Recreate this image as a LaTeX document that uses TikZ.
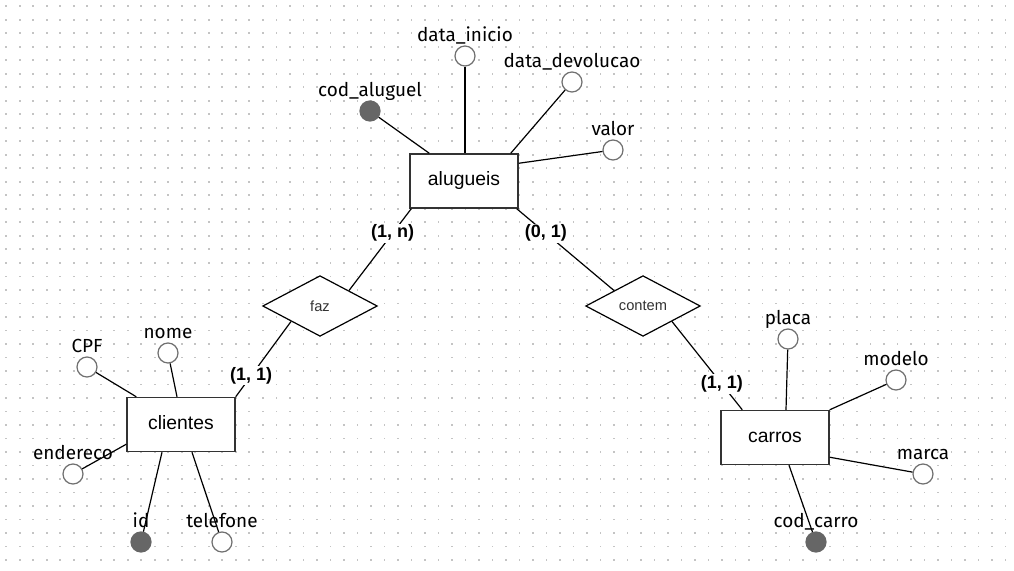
\documentclass[tikz,border=0pt]{standalone}
\usepackage{fontspec}
\setmainfont{Liberation Sans}
\newfontfamily\attrfont{Fira Sans}
\usetikzlibrary{shapes.geometric,calc}
\definecolor{boxline}{HTML}{333333}
\definecolor{circline}{HTML}{707070}
\definecolor{keyfill}{HTML}{666666}
\definecolor{dotc}{HTML}{C4C4C4}
\begin{document}
\begin{tikzpicture}[x=0.75pt,y=-0.75pt,
 entity/.style={draw=boxline, line width=1.1pt, fill=white, minimum width=81pt, minimum height=40.5pt, inner sep=0pt, font=\fontsize{14.5}{17}\selectfont, text height=0.72em, text depth=0pt},
 rel/.style={diamond, draw=black, line width=0.9pt, fill=white, aspect=1, inner sep=0pt, minimum width=86pt, minimum height=45.5pt, font=\fontsize{11}{13}\selectfont, text=black!80},
 attr/.style={circle, draw=circline, line width=0.9pt, fill=white, minimum size=15pt, inner sep=0pt},
 keyattr/.style={attr, fill=keyfill, draw=keyfill},
 alabel/.style={font=\attrfont\fontsize{14.2}{16}\selectfont, anchor=base, inner sep=0pt},
 card/.style={font=\bfseries\fontsize{13.5}{16}\selectfont, fill=white, inner sep=1pt},
 link/.style={draw=black, line width=0.9pt}]
\useasboundingbox[fill=white] (0,0) rectangle (1014,571);
\foreach \i in {0,...,74}{\foreach \j in {0,...,41}{\fill[dotc] (5.4+13.505*\i,5.4+13.505*\j) rectangle ++(1.6,1.6);}}
% entities
\node[entity] (alugueis) at (464,181) {alugueis};
\node[entity] (clientes) at (181,424.5) {clientes};
\node[entity] (carros) at (775,437.5) {carros};
% relationships
\node[rel] (faz) at (320,306) {faz};
\node[rel] (contem) at (643,306) {contem};
% attributes of alugueis
\node[keyattr] (codal) at (370,111) {};
\node[alabel] (codal-l) at (370,96) {cod\_aluguel};
\node[attr] (dtini) at (465,56) {};
\node[alabel] (dtini-l) at (465,41) {data\_inicio};
\node[attr] (dtdev) at (572,82) {};
\node[alabel] (dtdev-l) at (572,67) {data\_devolucao};
\node[attr] (valor) at (613,150) {};
\node[alabel] (valor-l) at (613,135) {valor};
% attributes of clientes
\node[attr] (cpf) at (87,367) {};
\node[alabel] (cpf-l) at (87,352) {CPF};
\node[attr] (nome) at (168,353) {};
\node[alabel] (nome-l) at (168,338) {nome};
\node[attr] (end) at (73,474) {};
\node[alabel] (end-l) at (73,459) {endereco};
\node[keyattr] (id) at (141,542) {};
\node[alabel] (id-l) at (141,527) {id};
\node[attr] (tel) at (222,542) {};
\node[alabel] (tel-l) at (222,527) {telefone};
% attributes of carros
\node[attr] (placa) at (788,339) {};
\node[alabel] (placa-l) at (788,324) {placa};
\node[attr] (modelo) at (896,380) {};
\node[alabel] (modelo-l) at (896,365) {modelo};
\node[attr] (marca) at (923,474) {};
\node[alabel] (marca-l) at (923,459) {marca};
\node[keyattr] (codcar) at (816,542) {};
\node[alabel] (codcar-l) at (816,527) {cod\_carro};
% attribute links
\draw[link] (codal) -- ([xshift=15pt]alugueis.north west);
\draw[link] (dtini) -- ([xshift=0.75pt]alugueis.north);
\draw[link] (dtdev) -- ([xshift=-6pt]alugueis.north east);
\draw[link] (valor) -- ([yshift=-7.5pt]alugueis.north east);
\draw[link] (cpf) -- ([xshift=7.5pt]clientes.north west);
\draw[link] (nome) -- ([xshift=-3pt]clientes.north);
\draw[link] (end) -- ([yshift=6pt]clientes.south west);
\draw[link] (id) -- ([xshift=-14.25pt]clientes.south);
\draw[link] (tel) -- ([xshift=8.25pt]clientes.south);
\draw[link] (placa) -- ([xshift=8.25pt]carros.north);
\draw[link] (modelo) -- (carros.north east);
\draw[link] (marca) -- ([yshift=6pt]carros.south east);
\draw[link] (codcar) -- ([xshift=10.5pt]carros.south);
% relationship links
\draw[link] ([xshift=1.5pt]alugueis.south west) -- node[card,pos=0.30]{(1, n)} ($(faz.north)!0.5!(faz.east)$);
\draw[link] ($(faz.south)!0.5!(faz.west)$) -- node[card,pos=0.72]{(1, 1)} (clientes.north east);
\draw[link] ([xshift=-1.5pt]alugueis.south east) -- node[card,pos=0.30]{(0, 1)} ($(contem.north)!0.5!(contem.west)$);
\draw[link] ($(contem.south)!0.5!(contem.east)$) -- node[card,pos=0.71]{(1, 1)} ([xshift=16.5pt]carros.north west);
\end{tikzpicture}
\end{document}
